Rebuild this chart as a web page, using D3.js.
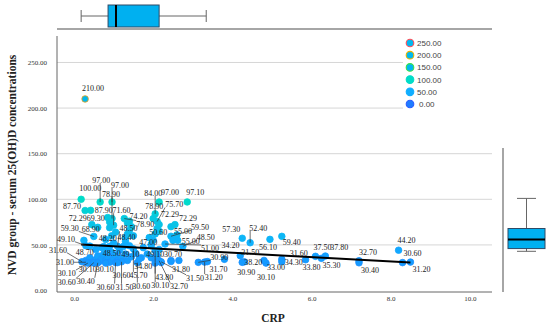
<!DOCTYPE html>
<html>
<head>
<meta charset="utf-8">
<script src="https://cdn.jsdelivr.net/npm/d3@7"></script>
<style>
  body { margin: 0; background: #fff; }
  svg { display: block; }
</style>
</head>
<body>
<div id="chart"></div>
<script>
// labelled cases: CRP and serum 25(OH)D
var crpLabelled = [0.28, 0.18, 0.28, 0.66, 0.96, 0.96, 0.42, 1.00, 0.45, 0.60,
	0.50, 0.90, 1.10, 1.27, 1.35, 2.05, 2.15, 2.00, 2.10, 2.86,
	2.15, 2.55, 2.45, 2.50, 1.95, 2.75, 2.62, 2.30, 1.75, 4.25,
	4.45, 3.80, 4.95, 5.25, 4.30, 4.20, 4.25, 4.85, 4.80, 5.25,
	5.25, 5.85, 6.10, 6.35, 6.25, 7.20, 7.20, 8.20, 8.30, 8.50,
	0.30, 0.75, 1.25, 0.20, 0.40, 0.90, 1.40, 1.95, 2.20, 0.30,
	0.35, 0.50, 0.80, 0.50, 0.60, 1.05, 1.20, 1.60, 2.05, 2.15,
	1.10, 1.50, 1.65, 2.05, 2.45, 2.20, 3.30, 3.14, 3.37];
var vitdLabelled = [210.00, 100.00, 87.70, 97.00, 97.00, 78.90, 87.90, 71.60, 72.29, 69.30,
	59.30, 68.90, 48.50, 78.90, 74.20, 84.00, 97.00, 78.90, 75.70, 97.10,
	72.29, 72.29, 59.50, 55.00, 50.60, 48.50, 55.00, 51.00, 47.00, 57.30,
	52.40, 34.20, 56.10, 59.40, 31.50, 38.20, 30.90, 30.10, 33.00, 34.30,
	31.60, 33.80, 37.50, 37.80, 35.30, 32.70, 30.40, 44.20, 30.60, 31.20,
	49.10, 48.20, 48.40, 31.60, 48.70, 48.50, 49.10, 49.10, 30.70, 31.00,
	30.10, 30.10, 30.10, 30.60, 30.40, 30.60, 31.50, 30.60, 30.10, 32.70,
	30.60, 45.70, 34.80, 43.80, 31.80, 31.50, 31.20, 30.90, 31.70];

// cases whose labels are hidden under the cluster
var crpHidden = [0.30, 0.40, 0.45, 0.55, 0.60, 0.65, 0.70, 0.75, 0.80, 0.85,
	0.90, 0.95, 1.00, 1.05, 1.10, 1.15, 1.20, 1.30, 1.35, 1.45,
	1.55, 1.70, 0.55, 0.70, 0.85, 1.00, 0.80, 0.95, 1.05, 1.30,
	1.35, 1.40, 1.45, 1.30, 1.85, 1.95, 2.05, 2.10, 2.15, 2.00,
	2.05, 2.15, 2.10, 0.85, 0.90, 0.25, 2.45, 2.65, 1.90, 2.60,
	2.45, 1.40, 1.50];
var vitdHidden = [33, 36, 31, 34, 38, 32, 35, 40, 33, 37,
	31, 42, 35, 39, 33, 44, 36, 40, 33, 37,
	41, 36, 45, 47, 43, 52, 56, 60, 64, 58,
	62, 66, 70, 54, 40, 36, 33, 38, 45, 55,
	62, 65, 68, 80, 75, 55, 33, 33, 58, 61,
	70, 76, 60];

// fit line
var fitIntercept = 50.8;
var fitSlope = -2.36;

// marginal boxplots: [low whisker, q1, median, q3, high whisker]
var crpBox = [0.18, 0.86, 1.06, 2.15, 3.34];
var vitdBox = [43, 46, 56, 68, 101];

var xTicks = [0, 2, 4, 6, 8, 10];
var yTicks = [0, 50, 100, 150, 200, 250];
var legendValues = [250, 200, 150, 100, 50, 0];

// label offsets from the point (pixels), same order as the labelled cases
var labelDx = [-3, -2, -22, -8, -1, -10, 4, -1, -23, -11,
	-33, -28, 2, 12, 2, -11, 2, -8, 8, -1,
	2, 4, 20, 1, -2, 14, 4, 36, -4, -20,
	-1, -3, -11, 1, -3, 4, -5, -9, 3, 3,
	8, -3, -2, 5, 1, 0, 2, -1, 1, 2,
	-29, -5, -6, -33, -14, -7, -8, -5, 3, -30,
	-30, -15, -10, -36, -21, -19, -6, -5, -4, 11,
	-5, -4, -5, 0, 1, 25, 0, 12, 2];
var labelDy = [-11, -11, -5, -22, -17, -25, 0, -15, -7, -9,
	-8, 1, -18, 5, -7, -21, -10, -13, -17, -10,
	-11, -7, -9, -9, -12, -9, 1, 4, -6, -9,
	-15, -14, 8, 6, -10, 6, 10, 14, 7, 3,
	-9, 7, -9, -9, 7, -9, 7, -10, -10, 7,
	-7, -9, -9, -12, 6, 7, 8, 8, -9, 0,
	10, 6, 6, 19, 18, 24, 25, 23, 22, 25,
	12, 26, 7, 26, 7, 16, 15, -5, 7];

var width = 550, height = 331;
var plot = { left: 57, right: 492, top: 36, bottom: 292 };

var svg = d3.select("#chart").append("svg")
	.attr("width", width)
	.attr("height", height);

svg.append("rect").attr("width", width).attr("height", height).attr("fill", "#fff");

var x = d3.scaleLinear().domain([-0.43, 10.56]).range([plot.left, plot.right]);
var y = d3.scaleLinear().domain([-1.6, 279]).range([plot.bottom, plot.top]);

var fillColor = d3.scaleLinear()
	.domain([0, 50, 100, 150])
	.range(["#1e7cff", "#10aeff", "#00dcc8", "#00b8f0"])
	.clamp(true);
var strokeColor = d3.scaleLinear()
	.domain([0, 50, 100, 150, 200, 250])
	.range(["#2a5cff", "#10aeff", "#00dcc8", "#3ee048", "#e8b400", "#ff4f5a"])
	.clamp(true);

// gridlines
svg.append("g")
	.selectAll("line")
	.data(yTicks.filter(function(d) { return d > 0; }))
	.enter().append("line")
		.attr("x1", plot.left).attr("x2", plot.right)
		.attr("y1", function(d) { return y(d); })
		.attr("y2", function(d) { return y(d); })
		.attr("stroke", "#d6d6d6")
		.attr("stroke-width", 1);

// y axis
var yAxis = svg.append("g")
	.attr("transform", "translate(" + plot.left + ",0)")
	.call(d3.axisLeft(y).tickValues(yTicks).tickSize(0).tickPadding(10).tickFormat(d3.format(".2f")));
yAxis.select(".domain").attr("d", "M0," + plot.top + "V" + plot.bottom).attr("stroke", "#666");
yAxis.selectAll("text").style("font-family", "Liberation Serif").style("font-size", "7px").attr("fill", "#333");

// x axis
var xAxis = svg.append("g")
	.attr("transform", "translate(0," + plot.bottom + ")")
	.call(d3.axisBottom(x).tickValues(xTicks).tickSize(0).tickPadding(4).tickFormat(d3.format(".1f")));
xAxis.select(".domain").attr("d", "M" + plot.left + ",0H" + plot.right).attr("stroke", "#666");
xAxis.selectAll("text").style("font-family", "Liberation Serif").style("font-size", "7px").attr("fill", "#333");

// axis titles
svg.append("text")
	.attr("x", 273).attr("y", 322)
	.attr("text-anchor", "middle")
	.style("font-family", "Liberation Serif").style("font-size", "11.5px").style("font-weight", "bold")
	.attr("fill", "#222")
	.text("CRP");
svg.append("text")
	.attr("transform", "translate(16,165) rotate(-90)")
	.attr("text-anchor", "middle")
	.style("font-family", "Liberation Serif").style("font-size", "11.5px").style("font-weight", "bold")
	.attr("fill", "#222")
	.text("NVD group - serum 25(OH)D concentrations");

// points
var labelled = crpLabelled.map(function(c, i) {
	return { crp: c, v: vitdLabelled[i], dx: labelDx[i], dy: labelDy[i] };
});
var hidden = crpHidden.map(function(c, i) { return { crp: c, v: vitdHidden[i] }; });
var allPoints = hidden.concat(labelled);

svg.append("g")
	.selectAll("circle")
	.data(allPoints)
	.enter().append("circle")
		.attr("cx", function(d) { return x(d.crp); })
		.attr("cy", function(d) { return y(d.v); })
		.attr("r", 3.3)
		.attr("fill", function(d) { return fillColor(d.v); })
		.attr("stroke", function(d) { return strokeColor(d.v); })
		.attr("stroke-width", 0.8);

// fit line across the range of CRP
var crpExtent = d3.extent(crpLabelled.concat(crpHidden));
svg.append("path")
	.attr("d", d3.line()(crpExtent.map(function(c) { return [x(c), y(fitIntercept + fitSlope * c)]; })))
	.attr("stroke", "#000")
	.attr("stroke-width", 2)
	.attr("fill", "none");

// labels and leader lines
var labelLayer = svg.append("g");
labelled.forEach(function(d) {
	var px = x(d.crp), py = y(d.v);
	var t = labelLayer.append("text")
		.attr("x", px + d.dx)
		.attr("y", py + d.dy + 3)
		.style("font-family", "Liberation Serif").style("font-size", "8px")
		.attr("fill", "#222")
		.text(d3.format(".2f")(d.v));
	var w = t.node().getComputedTextLength();
	var bx = Math.max(px + d.dx, Math.min(px, px + d.dx + w));
	var by = Math.max(py + d.dy - 3, Math.min(py, py + d.dy + 3));
	var dist = Math.hypot(bx - px, by - py);
	if (dist > 11) {
		labelLayer.append("line")
			.attr("x1", px).attr("y1", py)
			.attr("x2", bx).attr("y2", by)
			.attr("stroke", "#333")
			.attr("stroke-width", 0.7);
	}
});

// legend (white backdrop hides the gridlines)
svg.append("rect")
	.attr("x", 403).attr("y", 37).attr("width", plot.right - 403).attr("height", 75)
	.attr("fill", "#fff");
var legend = svg.append("g");
legendValues.forEach(function(v, i) {
	var ly = 43 + i * 12.2;
	legend.append("circle")
		.attr("cx", 410).attr("cy", ly).attr("r", 3.8)
		.attr("fill", fillColor(v))
		.attr("stroke", strokeColor(v))
		.attr("stroke-width", 1.1);
	legend.append("text")
		.attr("x", v === 0 ? 419 : 417).attr("y", ly + 3)
		.style("font-family", "Liberation Sans").style("font-size", "8px")
		.attr("fill", "#444")
		.text(d3.format(".2f")(v));
});

// top boxplot (CRP)
var topBox = svg.append("g");
topBox.append("line")
	.attr("x1", plot.left).attr("x2", plot.right).attr("y1", 29).attr("y2", 29)
	.attr("stroke", "#888").attr("stroke-width", 1.5);
topBox.append("line")
	.attr("x1", x(crpBox[0])).attr("x2", x(crpBox[4])).attr("y1", 16).attr("y2", 16)
	.attr("stroke", "#666").attr("stroke-width", 1);
[crpBox[0], crpBox[4]].forEach(function(c) {
	topBox.append("line")
		.attr("x1", x(c)).attr("x2", x(c)).attr("y1", 10).attr("y2", 22)
		.attr("stroke", "#666").attr("stroke-width", 1);
});
topBox.append("rect")
	.attr("x", x(crpBox[1])).attr("y", 5)
	.attr("width", x(crpBox[3]) - x(crpBox[1])).attr("height", 22)
	.attr("fill", "#00b0f0").attr("stroke", "#2e4a66").attr("stroke-width", 1);
topBox.append("line")
	.attr("x1", x(crpBox[2])).attr("x2", x(crpBox[2])).attr("y1", 5).attr("y2", 27)
	.attr("stroke", "#000").attr("stroke-width", 2);

// right boxplot (25(OH)D)
var sideBox = svg.append("g");
sideBox.append("line")
	.attr("x1", 503).attr("x2", 503).attr("y1", 148).attr("y2", plot.bottom)
	.attr("stroke", "#888").attr("stroke-width", 1.5);
sideBox.append("line")
	.attr("x1", 526.5).attr("x2", 526.5).attr("y1", y(vitdBox[0])).attr("y2", y(vitdBox[4]))
	.attr("stroke", "#666").attr("stroke-width", 1);
[vitdBox[0], vitdBox[4]].forEach(function(v) {
	sideBox.append("line")
		.attr("x1", 517).attr("x2", 536).attr("y1", y(v)).attr("y2", y(v))
		.attr("stroke", "#666").attr("stroke-width", 1);
});
sideBox.append("rect")
	.attr("x", 508).attr("y", y(vitdBox[3]))
	.attr("width", 37).attr("height", y(vitdBox[1]) - y(vitdBox[3]))
	.attr("fill", "#00b0f0").attr("stroke", "#2e4a66").attr("stroke-width", 1);
sideBox.append("line")
	.attr("x1", 508).attr("x2", 545).attr("y1", y(vitdBox[2])).attr("y2", y(vitdBox[2]))
	.attr("stroke", "#000").attr("stroke-width", 2);
</script>
</body>
</html>
